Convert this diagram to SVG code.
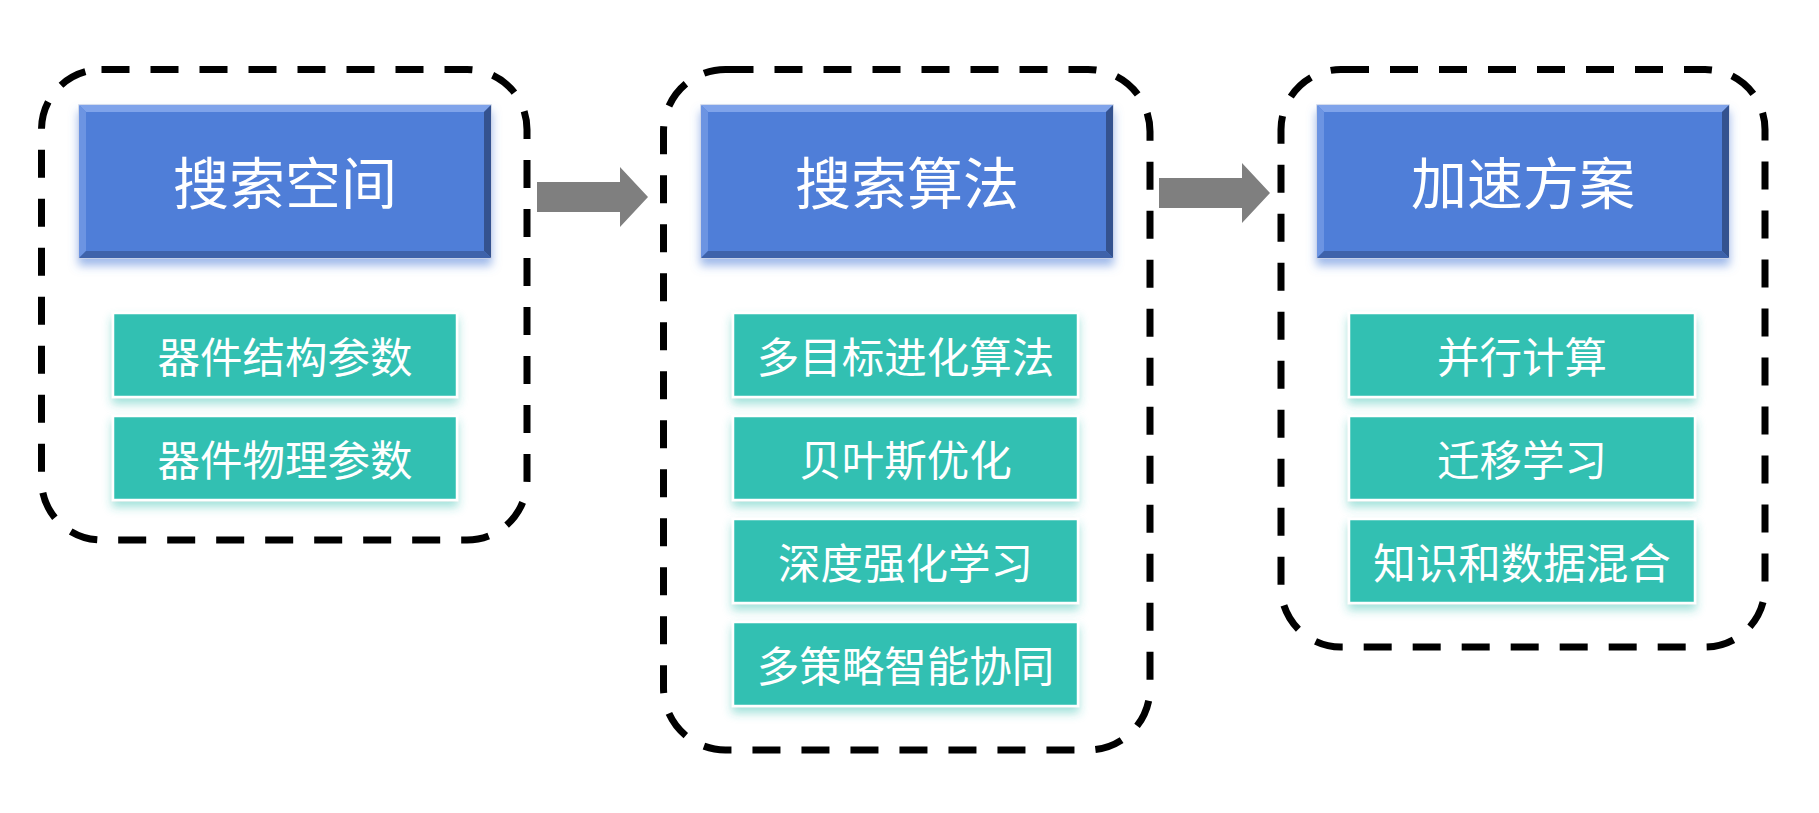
<svg xmlns="http://www.w3.org/2000/svg" xmlns:xlink="http://www.w3.org/1999/xlink" width="1819" height="813" viewBox="0 0 1819 813">
<style>
.frame{fill:none;stroke:#000;stroke-width:7;stroke-dasharray:28 21}
.hdrtxt{font-family:"Noto Sans CJK SC","Microsoft YaHei",sans-serif;font-size:56px;fill:#fff;text-anchor:middle;dominant-baseline:central}
.item{fill:#32C0B2;stroke:#fff;stroke-width:2.5;filter:url(#tealglow)}
.itemtxt{font-family:"Noto Sans CJK SC","Microsoft YaHei",sans-serif;font-size:42.5px;fill:#fff;text-anchor:middle;dominant-baseline:central}
.arrow{fill:#7F7F7F}
</style>
<defs>
<filter id="blueglow" x="-10%" y="-20%" width="120%" height="150%">
<feDropShadow dx="0" dy="7" stdDeviation="5" flood-color="#4F7FD9" flood-opacity="0.55"/>
</filter>
<filter id="tealglow" x="-10%" y="-20%" width="120%" height="160%">
<feDropShadow dx="0" dy="6" stdDeviation="5" flood-color="#30C0B0" flood-opacity="0.45"/>
</filter>
<g id="hdr">
<rect x="0" y="0" width="412" height="153" fill="#507ED8" stroke="#C9D2E6" stroke-width="1.5" filter="url(#blueglow)"/>
<polygon points="0,0 412,0 405,7 7,7" fill="#7FA3EA"/>
<polygon points="0,0 7,7 7,146 0,153" fill="#6C94E2"/>
<polygon points="412,0 412,153 405,146 405,7" fill="#34528F"/>
<polygon points="0,153 7,146 405,146 412,153" fill="#3E62AA"/>
</g>
</defs>
<rect width="1819" height="813" fill="#fff"/>

<g id="connectors">
<path class="arrow" d="M537,182 H620 V167 L648,197 L620,227 V212 H537 Z"/>
<path class="arrow" d="M1159,178 H1242 V163 L1270,193 L1242,223 V208 H1159 Z"/>
</g>

<g id="group-search-space">
<rect class="frame" x="41.5" y="69.5" width="485.5" height="470.5" rx="60"/>
<g id="node-search-space">
<use xlink:href="#hdr" x="79" y="105"/>
<text class="hdrtxt" x="285" y="179">搜索空间</text>
</g>
<g id="node-structure-params">
<rect class="item" x="113" y="313" width="344" height="84"/>
<text class="itemtxt" x="285" y="354">器件结构参数</text>
</g>
<g id="node-physical-params">
<rect class="item" x="113" y="416" width="344" height="84"/>
<text class="itemtxt" x="285" y="457">器件物理参数</text>
</g>
</g>

<g id="group-search-algorithm">
<rect class="frame" x="663.5" y="69.5" width="486.5" height="680.5" rx="62"/>
<g id="node-search-algorithm">
<use xlink:href="#hdr" x="701" y="105"/>
<text class="hdrtxt" x="907" y="179">搜索算法</text>
</g>
<g id="node-moea">
<rect class="item" x="733" y="313" width="345" height="84"/>
<text class="itemtxt" x="905.5" y="354">多目标进化算法</text>
</g>
<g id="node-bayes">
<rect class="item" x="733" y="416" width="345" height="84"/>
<text class="itemtxt" x="905.5" y="457">贝叶斯优化</text>
</g>
<g id="node-drl">
<rect class="item" x="733" y="519" width="345" height="84"/>
<text class="itemtxt" x="905.5" y="560">深度强化学习</text>
</g>
<g id="node-multi-strategy">
<rect class="item" x="733" y="622" width="345" height="84"/>
<text class="itemtxt" x="905.5" y="663">多策略智能协同</text>
</g>
</g>

<g id="group-acceleration">
<rect class="frame" x="1281" y="69.5" width="484" height="577.5" rx="60"/>
<g id="node-acceleration">
<use xlink:href="#hdr" x="1317" y="105"/>
<text class="hdrtxt" x="1523" y="179">加速方案</text>
</g>
<g id="node-parallel">
<rect class="item" x="1349" y="313" width="346" height="84"/>
<text class="itemtxt" x="1522" y="354">并行计算</text>
</g>
<g id="node-transfer">
<rect class="item" x="1349" y="416" width="346" height="84"/>
<text class="itemtxt" x="1522" y="457">迁移学习</text>
</g>
<g id="node-hybrid">
<rect class="item" x="1349" y="519" width="346" height="84"/>
<text class="itemtxt" x="1522" y="560">知识和数据混合</text>
</g>
</g>
</svg>
